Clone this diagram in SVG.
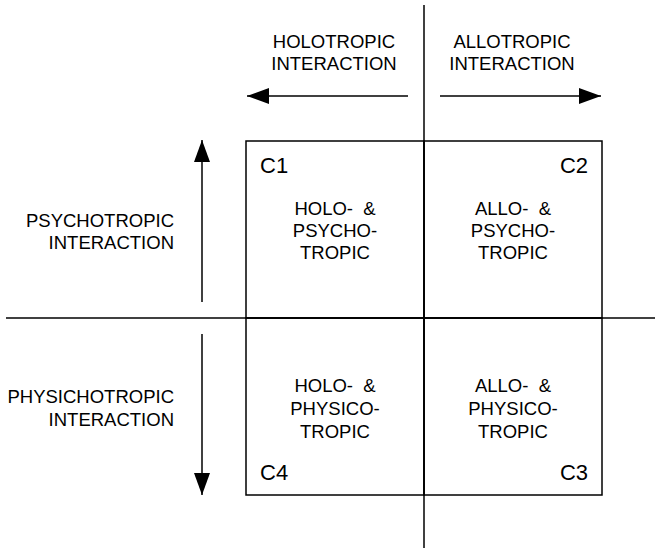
<svg xmlns="http://www.w3.org/2000/svg" width="657" height="550" viewBox="0 0 657 550">
<style>
text{font-family:"Liberation Sans",Arial,sans-serif;fill:#000;font-size:18.5px;white-space:pre}
.c{text-anchor:middle}
.r{text-anchor:end}
.lbl{font-size:22px}
.ln{stroke:#000;stroke-width:1.5;fill:none}
.ar{stroke:#000;stroke-width:1.5;fill:none;marker-end:url(#ah)}
</style>
<defs>
<marker id="ah" markerUnits="userSpaceOnUse" markerWidth="22" markerHeight="16" refX="22" refY="8" orient="auto">
<path d="M0,0 L22,8 L0,16 z" fill="#000"/>
</marker>
</defs>
<g id="axes">
<line class="ln" x1="424" y1="5" x2="424" y2="548"/>
<line class="ln" x1="6" y1="318" x2="655" y2="318"/>
</g>
<g id="connectors">
<line class="ar" x1="408" y1="96" x2="247" y2="96"/>
<line class="ar" x1="440" y1="96" x2="601" y2="96"/>
<line class="ar" x1="202" y1="302" x2="202" y2="140"/>
<line class="ar" x1="202" y1="334" x2="202" y2="495"/>
</g>
<g id="axis-labels">
<text class="c" x="334" y="48">HOLOTROPIC</text>
<text class="c" x="334" y="70">INTERACTION</text>
<text class="c" x="512" y="48">ALLOTROPIC</text>
<text class="c" x="512" y="70">INTERACTION</text>
<text class="r" x="174" y="227">PSYCHOTROPIC</text>
<text class="r" x="174" y="249">INTERACTION</text>
<text class="r" x="174" y="403">PHYSICHOTROPIC</text>
<text class="r" x="174" y="426">INTERACTION</text>
</g>
<g id="C1">
<rect class="ln" x="246" y="141" width="178" height="177"/>
<text class="lbl" x="260" y="173">C1</text>
<text class="c" x="335" y="215">HOLO-  &amp;</text>
<text class="c" x="335" y="237">PSYCHO-</text>
<text class="c" x="335" y="259">TROPIC</text>
</g>
<g id="C2">
<rect class="ln" x="424" y="141" width="178" height="177"/>
<text class="lbl r" x="588" y="173">C2</text>
<text class="c" x="513" y="215">ALLO-  &amp;</text>
<text class="c" x="513" y="237">PSYCHO-</text>
<text class="c" x="513" y="259">TROPIC</text>
</g>
<g id="C4">
<rect class="ln" x="246" y="318" width="178" height="177"/>
<text class="lbl" x="260" y="480">C4</text>
<text class="c" x="335" y="392">HOLO-  &amp;</text>
<text class="c" x="335" y="415">PHYSICO-</text>
<text class="c" x="335" y="438">TROPIC</text>
</g>
<g id="C3">
<rect class="ln" x="424" y="318" width="178" height="177"/>
<text class="lbl r" x="588" y="480">C3</text>
<text class="c" x="513" y="392">ALLO-  &amp;</text>
<text class="c" x="513" y="415">PHYSICO-</text>
<text class="c" x="513" y="438">TROPIC</text>
</g>
</svg>
